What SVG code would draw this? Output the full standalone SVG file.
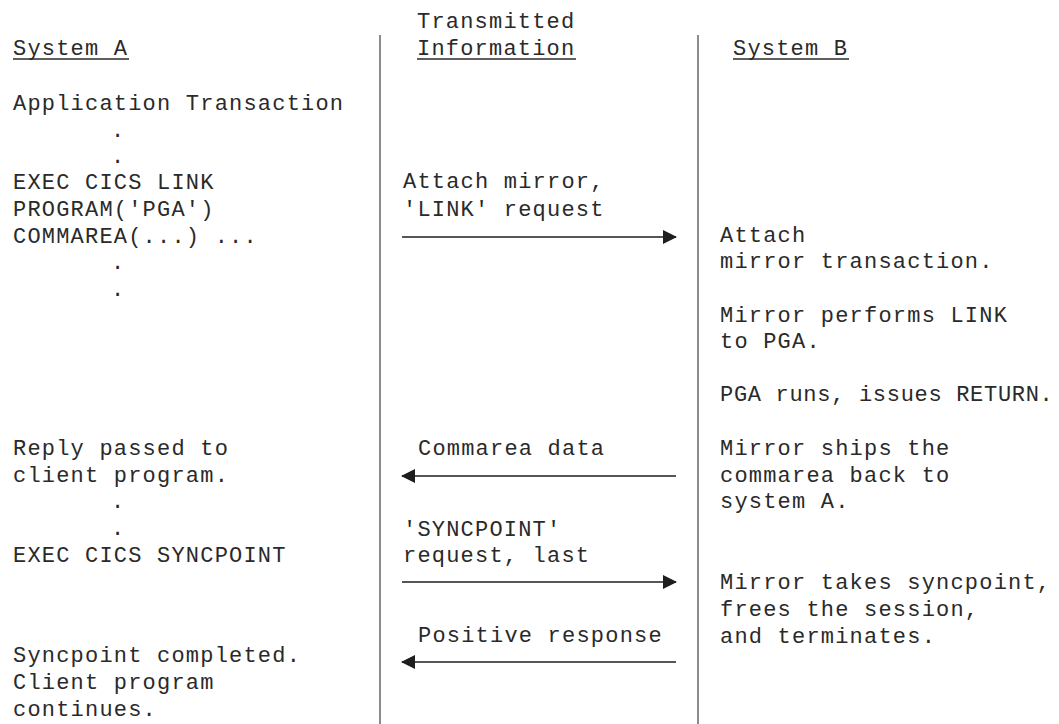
<svg xmlns="http://www.w3.org/2000/svg" width="1059" height="724" viewBox="0 0 1059 724">
<style>
text{font-family:"Liberation Mono","DejaVu Sans Mono",monospace;font-size:22px;letter-spacing:1.2px;fill:#2a2a2a;white-space:pre}
.ul{stroke:#2a2a2a;stroke-width:1.6}
.div{stroke:#666;stroke-width:1.5}
.arr{stroke:#1e1e1e;stroke-width:1.3;fill:none}
</style>
<defs>
<marker id="ah" viewBox="0 0 14 14" refX="13" refY="7" markerWidth="14" markerHeight="14" markerUnits="userSpaceOnUse" orient="auto">
<path d="M0,0 L14,7 L0,14 Z" fill="#1e1e1e"/>
</marker>
</defs>
<rect width="1059" height="724" fill="#fff"/>
<g id="dividers">
<line class="div" x1="380" y1="35" x2="380" y2="724"/>
<line class="div" x1="698" y1="35" x2="698" y2="724"/>
</g>
<g id="headers">
<text x="417" y="28">Transmitted</text>
<text x="13" y="55">System A</text>
<line class="ul" x1="13" y1="59" x2="129" y2="59"/>
<text x="417" y="55">Information</text>
<line class="ul" x1="417" y1="59" x2="576" y2="59"/>
<text x="733" y="55">System B</text>
<line class="ul" x1="733" y1="59" x2="849" y2="59"/>
</g>
<g id="systemA">
<text x="13" y="110">Application Transaction</text>
<text x="111" y="137">.</text>
<text x="111" y="163">.</text>
<text x="13" y="189">EXEC CICS LINK</text>
<text x="13" y="216">PROGRAM('PGA')</text>
<text x="13" y="243">COMMAREA(...) ...</text>
<text x="111" y="269">.</text>
<text x="111" y="296">.</text>
<text x="13" y="455">Reply passed to</text>
<text x="13" y="482">client program.</text>
<text x="111" y="508">.</text>
<text x="111" y="535">.</text>
<text x="13" y="562">EXEC CICS SYNCPOINT</text>
<text x="13" y="662">Syncpoint completed.</text>
<text x="13" y="689">Client program</text>
<text x="13" y="716">continues.</text>
</g>
<g id="transmitted">
<text x="403" y="188">Attach mirror,</text>
<text x="403" y="216">'LINK' request</text>
<text x="418" y="455">Commarea data</text>
<text x="403" y="536">'SYNCPOINT'</text>
<text x="403" y="562">request, last</text>
<text x="418" y="642">Positive response</text>
</g>
<g id="systemB">
<text x="720" y="242">Attach</text>
<text x="720" y="268">mirror transaction.</text>
<text x="720" y="322">Mirror performs LINK</text>
<text x="720" y="348">to PGA.</text>
<text x="720" y="401" textLength="334" lengthAdjust="spacing">PGA runs, issues RETURN.</text>
<text x="720" y="455">Mirror ships the</text>
<text x="720" y="482">commarea back to</text>
<text x="720" y="508">system A.</text>
<text x="720" y="589">Mirror takes syncpoint,</text>
<text x="720" y="616">frees the session,</text>
<text x="720" y="643">and terminates.</text>
</g>
<g id="connectors">
<line class="arr" x1="402" y1="237" x2="676" y2="237" marker-end="url(#ah)"/>
<line class="arr" x1="676" y1="476" x2="402" y2="476" marker-end="url(#ah)"/>
<line class="arr" x1="402" y1="582" x2="676" y2="582" marker-end="url(#ah)"/>
<line class="arr" x1="676" y1="662" x2="402" y2="662" marker-end="url(#ah)"/>
</g>
</svg>
